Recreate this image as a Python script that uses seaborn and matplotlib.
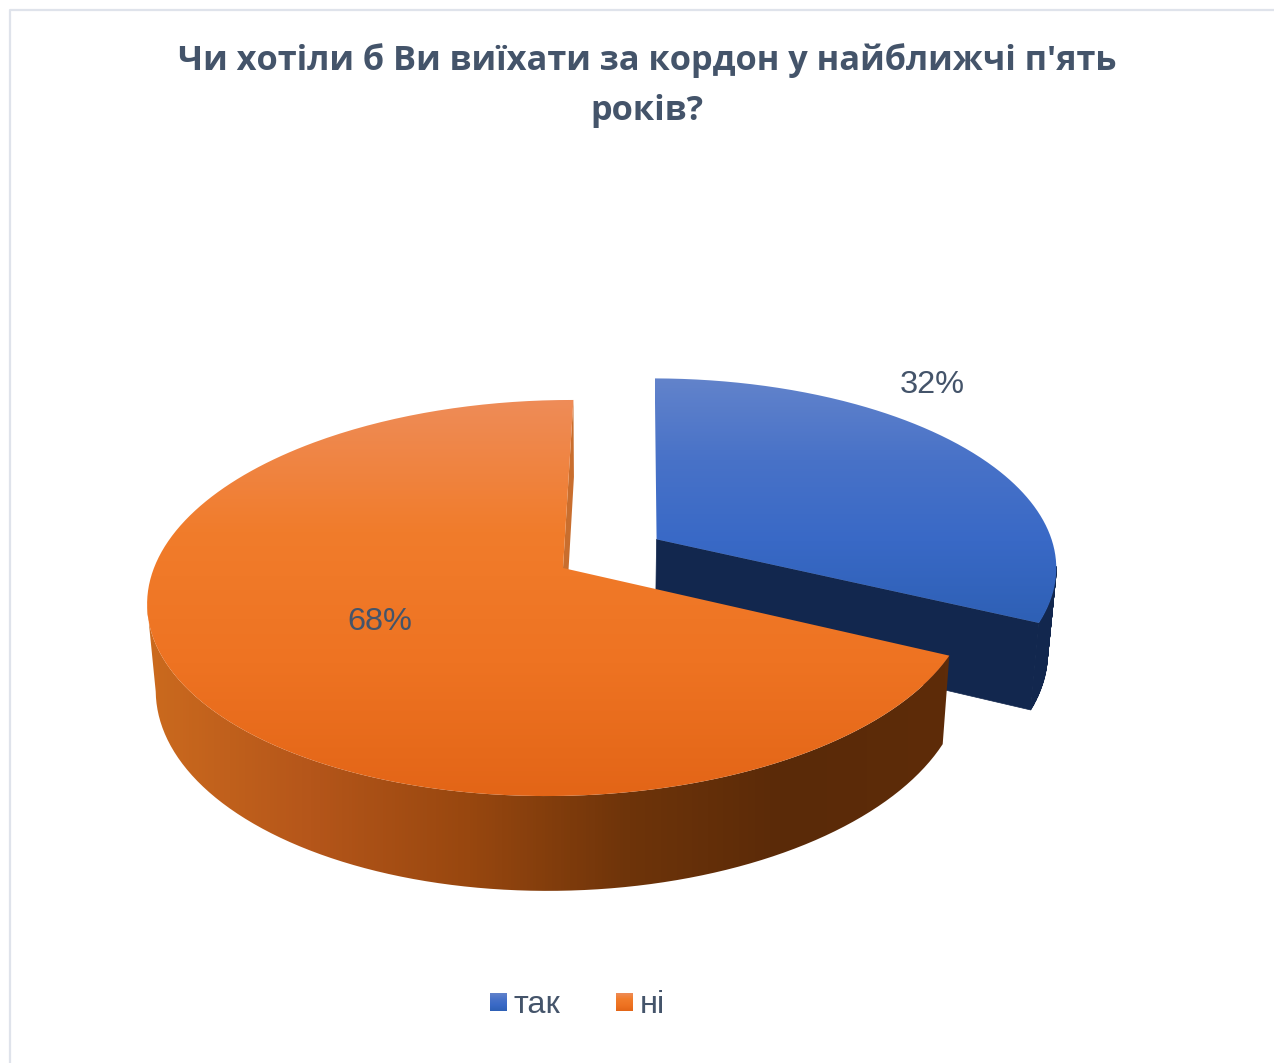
import numpy as np
import matplotlib
matplotlib.use("Agg")
import matplotlib.pyplot as plt
import seaborn as sns
from matplotlib.colors import LinearSegmentedColormap
from matplotlib.path import Path
from matplotlib.patches import PathPatch, Polygon

# Survey answers
categories = ["так", "ні"]
shares = [32, 68]
title_lines = ["Чи хотіли б Ви виїхати за кордон у найближчі п'ять", "років?"]

TEXT = "#44546A"
blue_top = ["#6283CB", "#4872C8", "#3969C6", "#2E60B5"]
orange_top = ["#EE8C58", "#F17C2B", "#EE7322", "#E36517"]
orange_side = ["#CB6A1E", "#B5561A", "#98470F", "#6E340A", "#5A2A08", "#5E2C09"]
blue_wall = "#12274E"
orange_wall = "#C96E2E"

sns.set_theme(style="white")
plt.rcParams["font.family"] = ["Liberation Sans", "DejaVu Sans"]

fig = plt.figure(figsize=(12.74, 10.63), dpi=100)
ax = fig.add_axes([0, 0, 1, 1])

# the pie gives the slice angles, the 3D look is drawn from them below
wedges, _ = ax.pie(shares, startangle=90, counterclock=False)
angles = [(w.theta1, w.theta2) for w in wedges]
for w in wedges:
    w.remove()
ax.set_aspect("auto")
ax.set_xlim(0, 1274)
ax.set_ylim(1063, 0)
ax.axis("off")


def project(u, v):
    # perspective view of the pie plane
    w = 1 + 0.1515 * v + 0.005 * u
    return 563 + (407 * u + 12 * v) / w, 568 - 193.5 * v / w


def lower(x, y):
    # same point on the underside of the pie
    return x + (600 - x) * 0.019, y + 77 + (y - 400) * 0.045


def arc(theta1, theta2, shift=(0, 0)):
    t = np.radians(np.linspace(theta1, theta2, 300))
    return project(np.cos(t) + shift[0], np.sin(t) + shift[1])


def gradient(colors, pts, vertical=True):
    cmap = LinearSegmentedColormap.from_list("g", colors)
    x0, x1 = pts[:, 0].min(), pts[:, 0].max()
    y0, y1 = pts[:, 1].min(), pts[:, 1].max()
    ramp = np.linspace(0, 1, 256)
    ramp = ramp[:, None] if vertical else ramp[None, :]
    im = ax.imshow(ramp, cmap=cmap, extent=(x0, x1, y1, y0), aspect="auto",
                   interpolation="bilinear", zorder=2)
    im.set_clip_path(PathPatch(Path(np.vstack([pts, pts[:1]])), transform=ax.transData))
    return im


# blue slice, pulled out from the pie
out = (0.231, 0.152)
bx, by = arc(*angles[0], shift=out)
apex_x, apex_y = project(*out)
top = np.column_stack([np.r_[apex_x, bx], np.r_[apex_y, by]])
low = np.column_stack(lower(top[:, 0], top[:, 1]))
# only the part up to the rightmost point of the rim can be seen
for i in range(np.argmax(top[:, 0]) + 1):
    ax.add_patch(Polygon([top[i], top[i + 1], low[i + 1], low[i]], fc=blue_wall, ec=blue_wall, lw=0.5, zorder=1))
gradient(blue_top, top)

# orange slice
ox, oy = arc(*angles[1])
cx, cy = project(0, 0)
top = np.column_stack([np.r_[cx, ox], np.r_[cy, oy]])
rim = np.column_stack([ox, oy])
rim_low = np.column_stack(lower(ox, oy))
# visible side runs from the far left round the front to the right end
left = np.argmin(ox)
gradient(orange_side, np.vstack([rim[left:], rim_low[left:][::-1]]), vertical=False)

# thin inner wall seen in the gap
far = rim[0]
ax.add_patch(Polygon([(cx, cy), far, lower(*far), lower(cx, cy)], fc=orange_wall, ec="none", zorder=2))

im = gradient(orange_top, top)
im.set_zorder(3)

# labels
for line, y in zip(title_lines, [61, 111]):
    ax.text(647, y, line, ha="center", va="center", fontsize=24.75, fontweight="bold",
            family=["Open Sans", "DejaVu Sans"], color=TEXT, zorder=5)
ax.text(932, 385, f"{shares[0]}%", ha="center", va="center", fontsize=23.4, color=TEXT, zorder=5)
ax.text(380, 622, f"{shares[1]}%", ha="center", va="center", fontsize=23.4, color=TEXT, zorder=5)

# legend
for name, colors, x in zip(categories, [blue_top, orange_top], [490, 616]):
    square = np.array([[x, 993], [x + 17, 993], [x + 17, 1011], [x, 1011]], dtype=float)
    gradient(colors, square)
    ax.text(x + 24, 1005, name, ha="left", va="center", fontsize=23.4, color=TEXT, zorder=5)

# chart border
ax.plot([9.5, 9.5, 1274], [1063, 10, 10], color="#DFE3EB", lw=1.6, zorder=0)
ax.set_xlim(0, 1274)
ax.set_ylim(1063, 0)

fig.savefig("out.png", dpi=100, facecolor="white")
